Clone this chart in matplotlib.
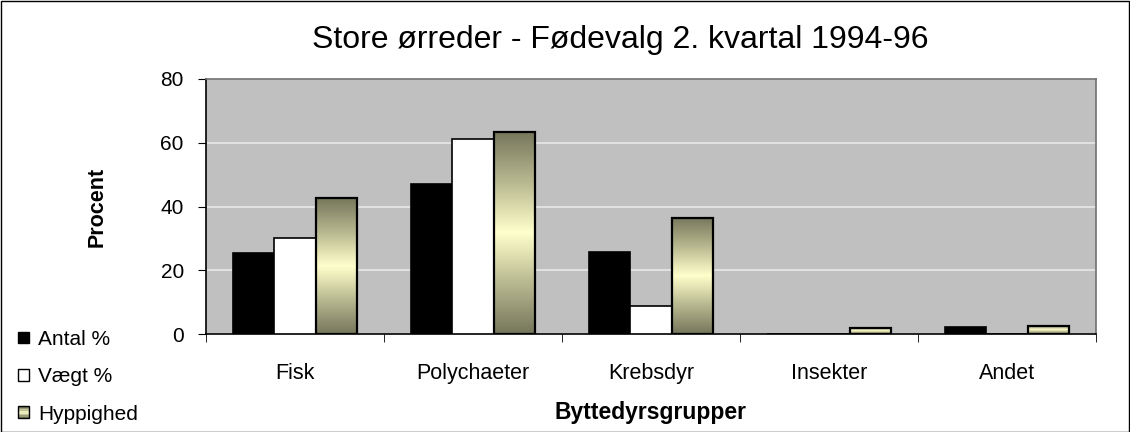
import numpy as np
import matplotlib
matplotlib.use("Agg")
import matplotlib.pyplot as plt
from matplotlib.patches import Rectangle, Patch
from matplotlib.colors import LinearSegmentedColormap
from matplotlib.legend_handler import HandlerPatch

plt.rcParams['font.family'] = ['Liberation Sans', 'DejaVu Sans']

categories = ["Fisk", "Polychaeter", "Krebsdyr", "Insekter", "Andet"]
series_names = ["Antal %", "Vægt %", "Hyppighed"]
antal = [25.3, 47.1, 25.8, 0.0, 2.1]
vaegt = [30.0, 61.3, 8.7, 0.0, 0.0]
hyppighed = [42.6, 63.4, 36.4, 1.9, 2.6]
yticks = [0, 20, 40, 60, 80]

title = "Store ørreder - Fødevalg 2. kvartal 1994-96"
xlabel = "Byttedyrsgrupper"
ylabel = "Procent"

W, H = 1130, 432
fig = plt.figure(figsize=(W / 100, H / 100), dpi=100)
fig.patch.set_facecolor("white")

ax = fig.add_axes([206 / W, 1 - 334 / H, (1096 - 206) / W, (334 - 79) / H])
ax.set_facecolor("#c0c0c0")

grad_cmap = LinearSegmentedColormap.from_list(
    "g", ["#76765c", "#b8b890", "#ffffcc", "#b8b890", "#76765c"])
grad = np.linspace(0, 1, 256).reshape(-1, 1)

x = np.arange(len(categories))
bw = 0.232
offsets = [-bw, 0, bw]

ax.bar(x + offsets[0], antal, bw, color="black", edgecolor="black", linewidth=1.2, zorder=3)
ax.bar(x + offsets[1], vaegt, bw, color="white", edgecolor="black", linewidth=1.2, zorder=3)
for xi, h in zip(x, hyppighed):
    if h <= 0:
        continue
    x0 = xi + offsets[2] - bw / 2
    ax.imshow(grad, cmap=grad_cmap, extent=[x0, x0 + bw, 0, h], aspect="auto",
              interpolation="bilinear", zorder=3)
ax.bar(x + offsets[2], hyppighed, bw, facecolor="none", edgecolor="black", linewidth=1.6, zorder=4)

ax.set_xlim(-0.5, len(categories) - 0.5)
ax.set_ylim(0, 80)
ax.set_yticks(yticks)
ax.yaxis.grid(True, color="#e8e8e8", linewidth=1.2, zorder=1)
ax.set_axisbelow(True)

ax.set_xticks(x)
ax.set_xticklabels(categories, fontsize=15.5)
ax.set_xticks(np.arange(-0.5, len(categories), 1.0), minor=True)
ax.tick_params(axis="x", which="major", length=0, pad=21)
ax.tick_params(axis="x", which="minor", length=6, direction="out", color="black")
ax.tick_params(axis="y", length=6, direction="out", labelsize=15, pad=10, color="black")

for s in ["top", "right"]:
    ax.spines[s].set_color("#707070")
    ax.spines[s].set_linewidth(1.2)
for s in ["left", "bottom"]:
    ax.spines[s].set_color("black")
    ax.spines[s].set_linewidth(1.2)

ax.set_xlabel(xlabel, fontsize=16.5, fontweight="bold", labelpad=12)
ax.set_ylabel(ylabel, fontsize=15.5, fontweight="bold", labelpad=38)

fig.text(620 / W, 1 - 40 / H, title, ha="center", va="center", fontsize=23)


class GradHandler(HandlerPatch):
    def create_artists(self, legend, orig_handle, xdescent, ydescent, width, height, fontsize, trans):
        arts = []
        n = 8
        cols = [grad_cmap(v) for v in np.linspace(0, 1, n)]
        for i, c in enumerate(cols):
            r = Rectangle((-xdescent, -ydescent + height * (n - 1 - i) / n), width, height / n,
                          facecolor=c, edgecolor="none", transform=trans)
            arts.append(r)
        arts.append(Rectangle((-xdescent, -ydescent), width, height, facecolor="none",
                              edgecolor="black", linewidth=1, transform=trans))
        return arts


handles = [Patch(facecolor="black", edgecolor="black"),
           Patch(facecolor="white", edgecolor="black"),
           Patch(facecolor="#ddddb0", edgecolor="black")]
leg = fig.legend(handles, series_names, loc="lower left", bbox_to_anchor=(6 / W, -4 / H),
                 frameon=False, fontsize=15, handlelength=0.5, handleheight=0.5,
                 handletextpad=0.45, labelspacing=0.88, borderpad=0.1,
                 handler_map={handles[2]: GradHandler()})

fig.add_artist(Rectangle((0.5 / W, 0.5 / H), 1 - 1.5 / W, 1 - 1.5 / H, transform=fig.transFigure,
                         facecolor="none", edgecolor="black", linewidth=1))

fig.savefig("out.png", dpi=100)
